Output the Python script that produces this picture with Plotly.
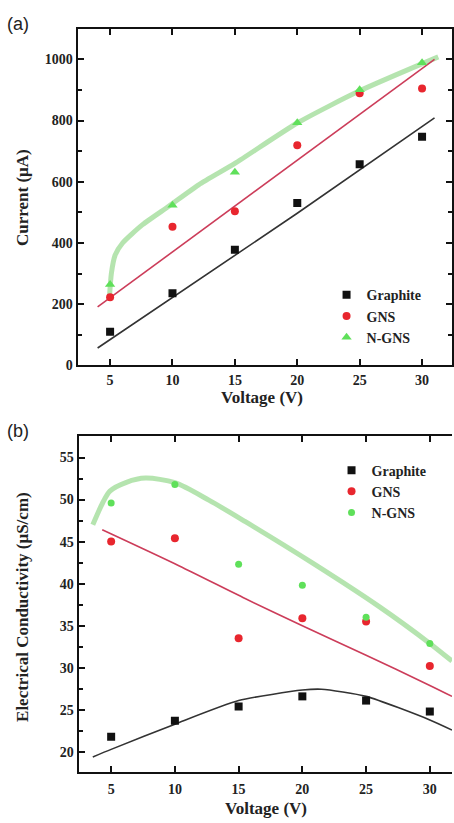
import plotly.graph_objects as go

# ---------------- data ----------------
voltage = [5, 10, 15, 20, 25, 30]

# (a) current (uA)
cur_graphite = [110, 236, 378, 531, 657, 747]
cur_gns = [223, 453, 504, 719, 889, 905]
cur_ngns = [264, 523, 631, 793, 901, 989]

# (a) fitted curves
fit_a_graphite_x = [4.0, 20, 31.0]
fit_a_graphite_y = [57, 497, 809]
fit_a_gns_x = [4.0, 31.0]
fit_a_gns_y = [191, 1000]
fit_a_ngns_x = [4.95, 5.1, 5.4, 6.0, 7.6, 9.7, 12.1, 15, 20, 25, 31.3]
fit_a_ngns_y = [225, 300, 360, 400, 460, 520, 590, 660, 792, 897, 1008]

# (b) electrical conductivity (uS/cm)
cond_graphite = [21.8, 23.7, 25.4, 26.6, 26.1, 24.8]
cond_gns = [45.0, 45.4, 33.5, 35.9, 35.5, 30.2]
cond_ngns = [49.6, 51.8, 42.3, 39.8, 36.0, 32.9]

fit_b_graphite_x = [3.56, 5, 10, 15, 20, 21.5, 25, 30, 31.74]
fit_b_graphite_y = [19.4, 20.3, 23.3, 26.1, 27.35, 27.45, 26.6, 23.8, 22.6]
fit_b_gns_x = [4.3, 10.35, 15.55, 20, 25, 30, 31.74]
fit_b_gns_y = [46.4, 42.1, 38.2, 35.0, 31.5, 27.9, 26.6]
fit_b_ngns_x = [3.56, 4.3, 4.9, 6.2, 7.7, 10, 12.7, 15.5, 20.75, 26, 30, 31.74]
fit_b_ngns_y = [47.0, 49.5, 51.0, 52.05, 52.55, 52.0, 49.9, 47.4, 42.5, 37.3, 32.9, 30.8]

# ---------------- styles ----------------
W, H = 454, 823
BLACK = "#111111"
RED = "#e8262e"
GREEN = "#5fe05a"
LINE_BLACK = "#333333"
LINE_RED = "#cc3d5a"
LINE_GREEN = "rgba(120,205,110,0.55)"
SERIF = "Liberation Serif"

fig = go.Figure()

# ---- panel (a) ----
fig.add_trace(go.Scatter(x=fit_a_ngns_x, y=fit_a_ngns_y, mode="lines",
                         line=dict(color=LINE_GREEN, width=5, shape="spline", smoothing=0.6),
                         showlegend=False, xaxis="x", yaxis="y", hoverinfo="skip"))
fig.add_trace(go.Scatter(x=fit_a_gns_x, y=fit_a_gns_y, mode="lines",
                         line=dict(color=LINE_RED, width=1.6),
                         showlegend=False, xaxis="x", yaxis="y", hoverinfo="skip"))
fig.add_trace(go.Scatter(x=fit_a_graphite_x, y=fit_a_graphite_y, mode="lines",
                         line=dict(color=LINE_BLACK, width=1.6),
                         showlegend=False, xaxis="x", yaxis="y", hoverinfo="skip"))
fig.add_trace(go.Scatter(x=voltage, y=cur_graphite, mode="markers", name="Graphite",
                         marker=dict(symbol="square", size=8, color=BLACK),
                         xaxis="x", yaxis="y", legend="legend"))
fig.add_trace(go.Scatter(x=voltage, y=cur_gns, mode="markers", name="GNS",
                         marker=dict(symbol="circle", size=8, color=RED),
                         xaxis="x", yaxis="y", legend="legend"))
fig.add_trace(go.Scatter(x=voltage, y=cur_ngns, mode="markers", name="N-GNS",
                         marker=dict(symbol="triangle-up", size=9, color=GREEN),
                         xaxis="x", yaxis="y", legend="legend"))

# ---- panel (b) ----
fig.add_trace(go.Scatter(x=fit_b_ngns_x, y=fit_b_ngns_y, mode="lines",
                         line=dict(color=LINE_GREEN, width=5, shape="spline", smoothing=0.8),
                         showlegend=False, xaxis="x2", yaxis="y2", hoverinfo="skip"))
fig.add_trace(go.Scatter(x=fit_b_gns_x, y=fit_b_gns_y, mode="lines",
                         line=dict(color=LINE_RED, width=1.6, shape="spline", smoothing=0.8),
                         showlegend=False, xaxis="x2", yaxis="y2", hoverinfo="skip"))
fig.add_trace(go.Scatter(x=fit_b_graphite_x, y=fit_b_graphite_y, mode="lines",
                         line=dict(color=LINE_BLACK, width=1.6, shape="spline", smoothing=0.6),
                         showlegend=False, xaxis="x2", yaxis="y2", hoverinfo="skip"))
fig.add_trace(go.Scatter(x=voltage, y=cond_graphite, mode="markers", name="Graphite",
                         marker=dict(symbol="square", size=8, color=BLACK),
                         xaxis="x2", yaxis="y2", legend="legend2"))
fig.add_trace(go.Scatter(x=voltage, y=cond_gns, mode="markers", name="GNS",
                         marker=dict(symbol="circle", size=8, color=RED),
                         xaxis="x2", yaxis="y2", legend="legend2"))
fig.add_trace(go.Scatter(x=voltage, y=cond_ngns, mode="markers", name="N-GNS",
                         marker=dict(symbol="circle", size=7, color=GREEN),
                         xaxis="x2", yaxis="y2", legend="legend2"))

tickfont = dict(family=SERIF, size=14, color="#222222", weight="bold")
common_ax = dict(showline=True, linecolor="#111111", linewidth=2, ticks="inside",
                 ticklen=6, tickwidth=2, tickcolor="#111111", showgrid=False,
                 zeroline=False, tickfont=tickfont)


def px_x(p):
    return p / W


def px_y(p):
    return 1 - p / H


fig.update_layout(
    width=W, height=H,
    margin=dict(l=0, r=0, t=0, b=0),
    paper_bgcolor="white", plot_bgcolor="white",
    xaxis=dict(domain=[px_x(78), 1], range=[2.4, 32.4], anchor="y",
               tickvals=voltage, mirror="ticks", ticklabelstandoff=1, **common_ax),
    yaxis=dict(domain=[px_y(369), px_y(29)], range=[0, 1100], anchor="x",
               dtick=200, tick0=0, mirror="ticks",
               minor=dict(dtick=100, ticks="inside", ticklen=4, tickwidth=1.5, tickcolor="#111111"),
               **common_ax),
    xaxis2=dict(domain=[px_x(79), 1], range=[2.45, 31.74], anchor="y2",
                tickvals=voltage, mirror="ticks", ticklabelstandoff=3, **common_ax),
    yaxis2=dict(domain=[px_y(780), px_y(440)], range=[17.56, 57.59], anchor="x2",
                dtick=5, tick0=0,
                minor=dict(dtick=2.5, ticks="inside", ticklen=4, tickwidth=1.5, tickcolor="#111111"),
                **common_ax),
    legend=dict(x=px_x(328), y=px_y(282), xanchor="left", yanchor="top",
                bgcolor="rgba(0,0,0,0)", borderwidth=0, tracegroupgap=0,
                font=dict(family=SERIF, size=14, color="#222222", weight="bold")),
    legend2=dict(x=px_x(333), y=px_y(459), xanchor="left", yanchor="top",
                 bgcolor="rgba(0,0,0,0)", borderwidth=0, tracegroupgap=0,
                 font=dict(family=SERIF, size=14, color="#222222", weight="bold")),
)

title_font = dict(family=SERIF, size=17, color="#222222", weight="bold")
annotations = [
    dict(text="(a)", x=px_x(5), y=px_y(24.5), xanchor="left", yanchor="middle",
         font=dict(family="Liberation Sans", size=18, color="#222222")),
    dict(text="(b)", x=px_x(5), y=px_y(435), xanchor="left", yanchor="middle",
         font=dict(family="Liberation Sans", size=18, color="#222222")),
    dict(text="Voltage (V)", x=px_x(263), y=px_y(401), xanchor="center", yanchor="middle",
         font=title_font),
    dict(text="Voltage (V)", x=px_x(267), y=px_y(816), xanchor="center", yanchor="middle",
         font=title_font),
    dict(text="Current (μA)", x=px_x(22), y=px_y(199), xanchor="center", yanchor="middle",
         textangle=-90, font=title_font),
    dict(text="Electrical Conductivity (μS/cm)", x=px_x(22), y=px_y(613),
         xanchor="center", yanchor="middle", textangle=-90, font=title_font),
]
for a in annotations:
    a.update(xref="paper", yref="paper", showarrow=False)
fig.update_layout(annotations=annotations)

fig.write_html("out.html")
